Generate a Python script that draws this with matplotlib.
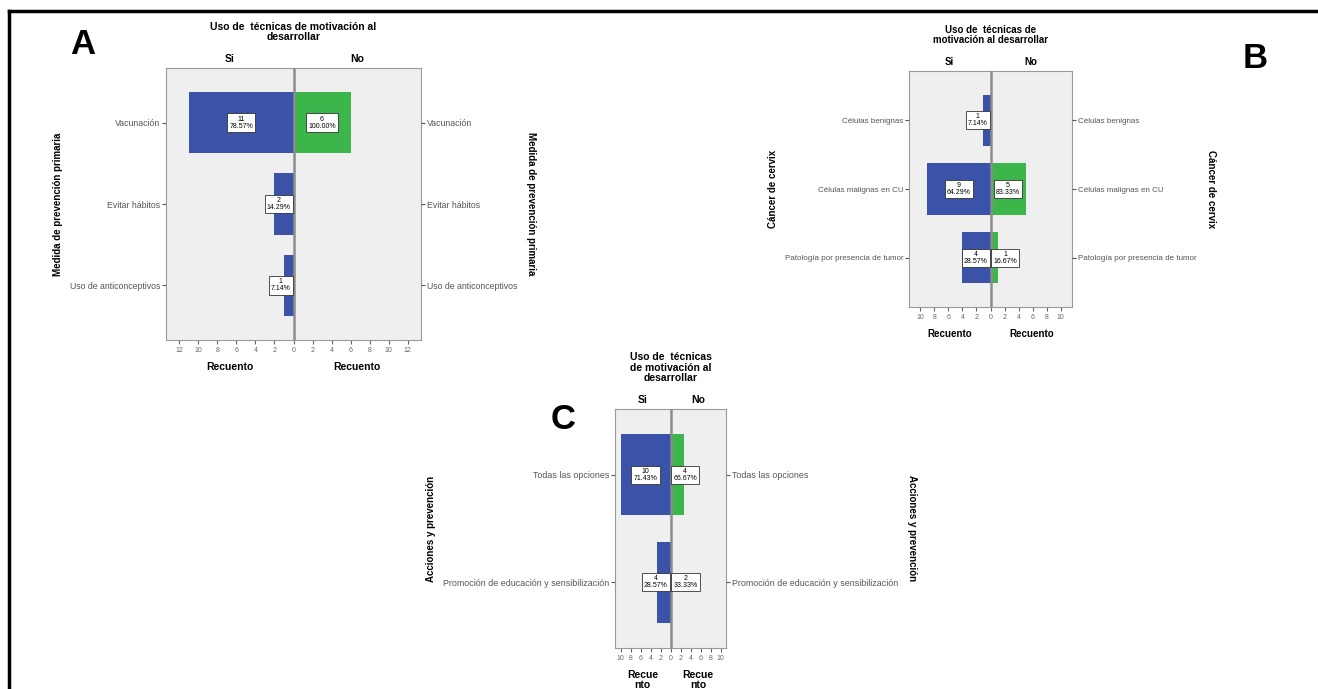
import matplotlib.pyplot as plt
import numpy as np
from matplotlib.lines import Line2D

plt.rcParams['font.family'] = ['Liberation Sans', 'DejaVu Sans']

W, H = 1318, 689
BLUE = '#3a52a8'
GREEN = '#3cb54a'

# A: medida de prevención primaria
cat_a = ['Vacunación', 'Evitar hábitos', 'Uso de anticonceptivos']
si_a = [11, 2, 1]
no_a = [6, 0, 0]
txt_si_a = ['11\n78.57%', '2\n14.29%', '1\n7.14%']
txt_no_a = ['6\n100.00%', None, None]

# B: cáncer de cervix
cat_b = ['Células benignas', 'Células malignas en CU', 'Patología por presencia de tumor']
si_b = [1, 9, 4]
no_b = [0, 5, 1]
txt_si_b = ['1\n7.14%', '9\n64.29%', '4\n28.57%']
txt_no_b = [None, '5\n83.33%', '1\n16.67%']

# C: acciones y prevención (longitudes tal como se ven en la figura)
cat_c = ['Todas las opciones', 'Promoción de educación y sensibilización']
si_c = [10, 2.7]
no_c = [2.6, 0]
txt_si_c = ['10\n71.43%', '4\n28.57%']
txt_no_c = ['4\n66.67%', '2\n33.33%']

fig = plt.figure(figsize=(W / 100, H / 100), dpi=100)


def fx(x):
    return x / W


def fy(y):
    return 1 - y / H


def panel(box, lim, pad, ticks, cats, si, no, txt_si, txt_no, title, ylab, rec, boxw,
          fs=7.5, cfs=6.3):
    l, t, r, b = box
    ax = fig.add_axes([fx(l), fy(b), (r - l) / W, (b - t) / H])
    y = np.arange(len(cats))
    ax.barh(y, -np.array(si), height=0.75, color=BLUE, zorder=2)
    ax.barh(y, no, height=0.75, color=GREEN, zorder=2)
    ax.axvline(0, color='#8c8c8c', lw=1.8, zorder=3)
    ax.set_xlim(-lim, lim)
    ax.set_ylim(len(cats) - 1 + pad, -pad)
    ax.set_facecolor('#efefef')
    for s in ax.spines.values():
        s.set_color('#9a9a9a')
    ax.set_xticks(ticks)
    ax.set_xticklabels([str(abs(v)) for v in ticks])
    ax.tick_params(axis='x', length=3, pad=2, labelsize=5, colors='#666666', labelcolor='#666666')
    ax.set_yticks(y)
    ax.set_yticklabels(cats)
    ax.tick_params(axis='y', length=3, pad=1, labelsize=cfs, colors='#555555')
    ax.set_ylabel(ylab, fontsize=7, fontweight='bold', labelpad=5)
    ax2 = ax.twinx()
    ax2.set_ylim(ax.get_ylim())
    ax2.set_yticks(y)
    ax2.set_yticklabels(cats)
    ax2.tick_params(axis='y', length=3, pad=1, labelsize=cfs, colors='#555555')
    ax2.set_ylabel(ylab, fontsize=7, fontweight='bold', rotation=270, labelpad=14)
    for s in ax2.spines.values():
        s.set_visible(False)

    bb = dict(boxstyle='square,pad=0.3', fc='white', ec='#333333', lw=0.6)
    kw = dict(va='center', fontsize=5, linespacing=1.0, multialignment='center', bbox=bb, zorder=4)
    for i in range(len(cats)):
        if txt_si[i]:
            if si[i] >= boxw:
                ax.text(-si[i] / 2, i, txt_si[i], ha='center', **kw)
            else:
                ax.annotate(txt_si[i], (0, i), xytext=(-2, 0), textcoords='offset points',
                            ha='right', **kw)
        if txt_no[i]:
            if no[i] >= boxw:
                ax.text(no[i] / 2, i, txt_no[i], ha='center', **kw)
            else:
                ax.annotate(txt_no[i], (0, i), xytext=(2, 0), textcoords='offset points',
                            ha='left', **kw)

    mid = (l + r) / 2
    fig.text(fx(mid), fy(t - 26), title, ha='center', va='bottom', fontsize=fs,
             fontweight='bold', linespacing=1.05)
    fig.text(fx((l + mid) / 2), fy(t - 9), 'Si', ha='center', va='center', fontsize=fs, fontweight='bold')
    fig.text(fx((mid + r) / 2), fy(t - 9), 'No', ha='center', va='center', fontsize=fs, fontweight='bold')
    fig.text(fx((l + mid) / 2), fy(b + 22), rec, ha='center', va='top', fontsize=fs,
             fontweight='bold', linespacing=1.0)
    fig.text(fx((mid + r) / 2), fy(b + 22), rec, ha='center', va='top', fontsize=fs,
             fontweight='bold', linespacing=1.0)
    return ax


panel((166, 68, 421, 340), 13.4, 0.67, list(range(-12, 13, 2)), cat_a, si_a, no_a,
      txt_si_a, txt_no_a, 'Uso de  técnicas de motivación al\ndesarrollar',
      'Medida de prevención primaria', 'Recuento', 3.3)
panel((909, 71, 1072, 307), 11.6, 0.72, list(range(-10, 11, 2)), cat_b, si_b, no_b,
      txt_si_b, txt_no_b, 'Uso de  técnicas de\nmotivación al desarrollar',
      'Cáncer de cervix', 'Recuento', 4.3, fs=7, cfs=5.8)
panel((615, 409, 726, 648), 11.1, 0.61, list(range(-10, 11, 2)), cat_c, si_c, no_c,
      txt_si_c, txt_no_c, 'Uso de  técnicas\nde motivación al\ndesarrollar',
      'Acciones y prevención', 'Recue\nnto', 6.6, cfs=6.4)

for lt, (x, y) in zip('ABC', [(83, 45), (1255, 58), (563, 420)]):
    fig.text(fx(x), fy(y), lt, ha='center', va='center', fontsize=25, fontweight='bold')

# marco de la imagen
fig.add_artist(Line2D([fx(9), 1], [fy(11), fy(11)], color='black', lw=2.5))
fig.add_artist(Line2D([fx(9), fx(9)], [0, fy(11)], color='black', lw=2.5))

fig.savefig('out.png', dpi=100)
